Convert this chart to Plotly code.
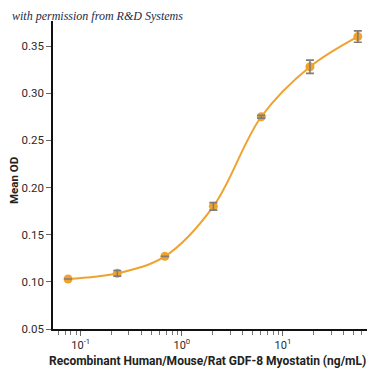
import plotly.graph_objects as go

conc = [0.075, 0.23, 0.68, 2.05, 6.1, 18.5, 55]
mean_od = [0.103, 0.109, 0.127, 0.180, 0.275, 0.328, 0.360]
err = [0.0, 0.003, 0.0, 0.004, 0.0015, 0.007, 0.006]

x_title = "Recombinant Human/Mouse/Rat GDF-8 Myostatin (ng/mL)"
y_title = "Mean OD"
note = "with permission from R&D Systems"
y_ticks = [0.05, 0.10, 0.15, 0.20, 0.25, 0.30, 0.35]
y_ticklabels = ["0.05", "0.10", "0.15", "0.20", "0.25", "0.30", "0.35"]
x_ticks = [0.1, 1, 10]
x_ticklabels = ["10<sup>-1</sup>", "10<sup>0</sup>", "10<sup>1</sup>"]
x_minor = [m * 10.0 ** e for e in (-2, -1, 0, 1) for m in range(2, 10)]

orange = "#F0A22E"
cond = "Roboto, Liberation Sans, sans-serif"

# page body has an 8px default margin; work in window coordinates minus this offset
OFF = 8
W, H = 375 - OFF, 375 - OFF
L, T = 53 - OFF, 21 - OFF
R = W - (369 - OFF)
B = H - (329 - OFF)

fig = go.Figure()
fig.add_trace(go.Scatter(
    x=conc, y=mean_od, mode="lines+markers",
    line=dict(color=orange, width=2, shape="spline", smoothing=1.0),
    marker=dict(color=orange, size=9),
    hoverinfo="skip", showlegend=False,
))
fig.add_trace(go.Scatter(
    x=conc, y=mean_od, mode="markers",
    marker=dict(color="rgba(0,0,0,0)", size=1),
    error_y=dict(type="data", array=err, color="#7d7d80", thickness=1.6, width=4),
    hoverinfo="skip", showlegend=False,
))

pw = W - L - R
ph = H - T - B


def px(xw):
    return (xw - OFF - L) / pw


def py(yw):
    return 1 - (yw - OFF - T) / ph


fig.update_layout(
    width=W, height=H,
    margin=dict(l=L, r=R, t=T, b=B),
    paper_bgcolor="white", plot_bgcolor="white",
    font=dict(family=cond, color="#2a2a2a", size=11),
    annotations=[
        dict(text="<i>" + note + "</i>", xref="paper", yref="paper",
             x=px(10), y=py(16), xanchor="left", yanchor="middle",
             showarrow=False,
             font=dict(family="Liberation Serif, DejaVu Serif, serif", size=12, color="#1c2a48")),
        dict(text="<b>" + x_title + "</b>", xref="paper", yref="paper",
             x=px(207), y=py(361), xanchor="center", yanchor="middle",
             showarrow=False,
             font=dict(family=cond, size=12, color="#222")),
        dict(text="<b>" + y_title + "</b>", xref="paper", yref="paper",
             x=px(8), y=py(181), xanchor="left", yanchor="middle", xshift=-3,
             textangle=-90, showarrow=False,
             font=dict(family=cond, size=11.5, color="#222")),
    ],
)
fig.update_xaxes(
    type="log", range=[-1.274, 1.851], automargin=False,
    showline=True, linecolor="#111", linewidth=1.5,
    showgrid=False, zeroline=False,
    ticks="outside", ticklen=5, tickcolor="#666", tickwidth=1,
    tickmode="array", tickvals=x_ticks, ticktext=x_ticklabels,
    tickfont=dict(size=11, family=cond, color="#2a2a2a"),
    minor=dict(ticks="outside", ticklen=4, tickcolor="#777", tickmode="array",
               tickvals=x_minor, showgrid=False),
)
fig.update_yaxes(
    range=[0.05, 0.3765], automargin=False,
    showline=True, linecolor="#111", linewidth=1.5,
    showgrid=False, zeroline=False,
    ticks="outside", ticklen=5, tickcolor="#666", tickwidth=1,
    tickvals=y_ticks, ticktext=y_ticklabels,
    tickfont=dict(size=11.5, family=cond, color="#2a2a2a"),
)

fig.write_html("out.html")
